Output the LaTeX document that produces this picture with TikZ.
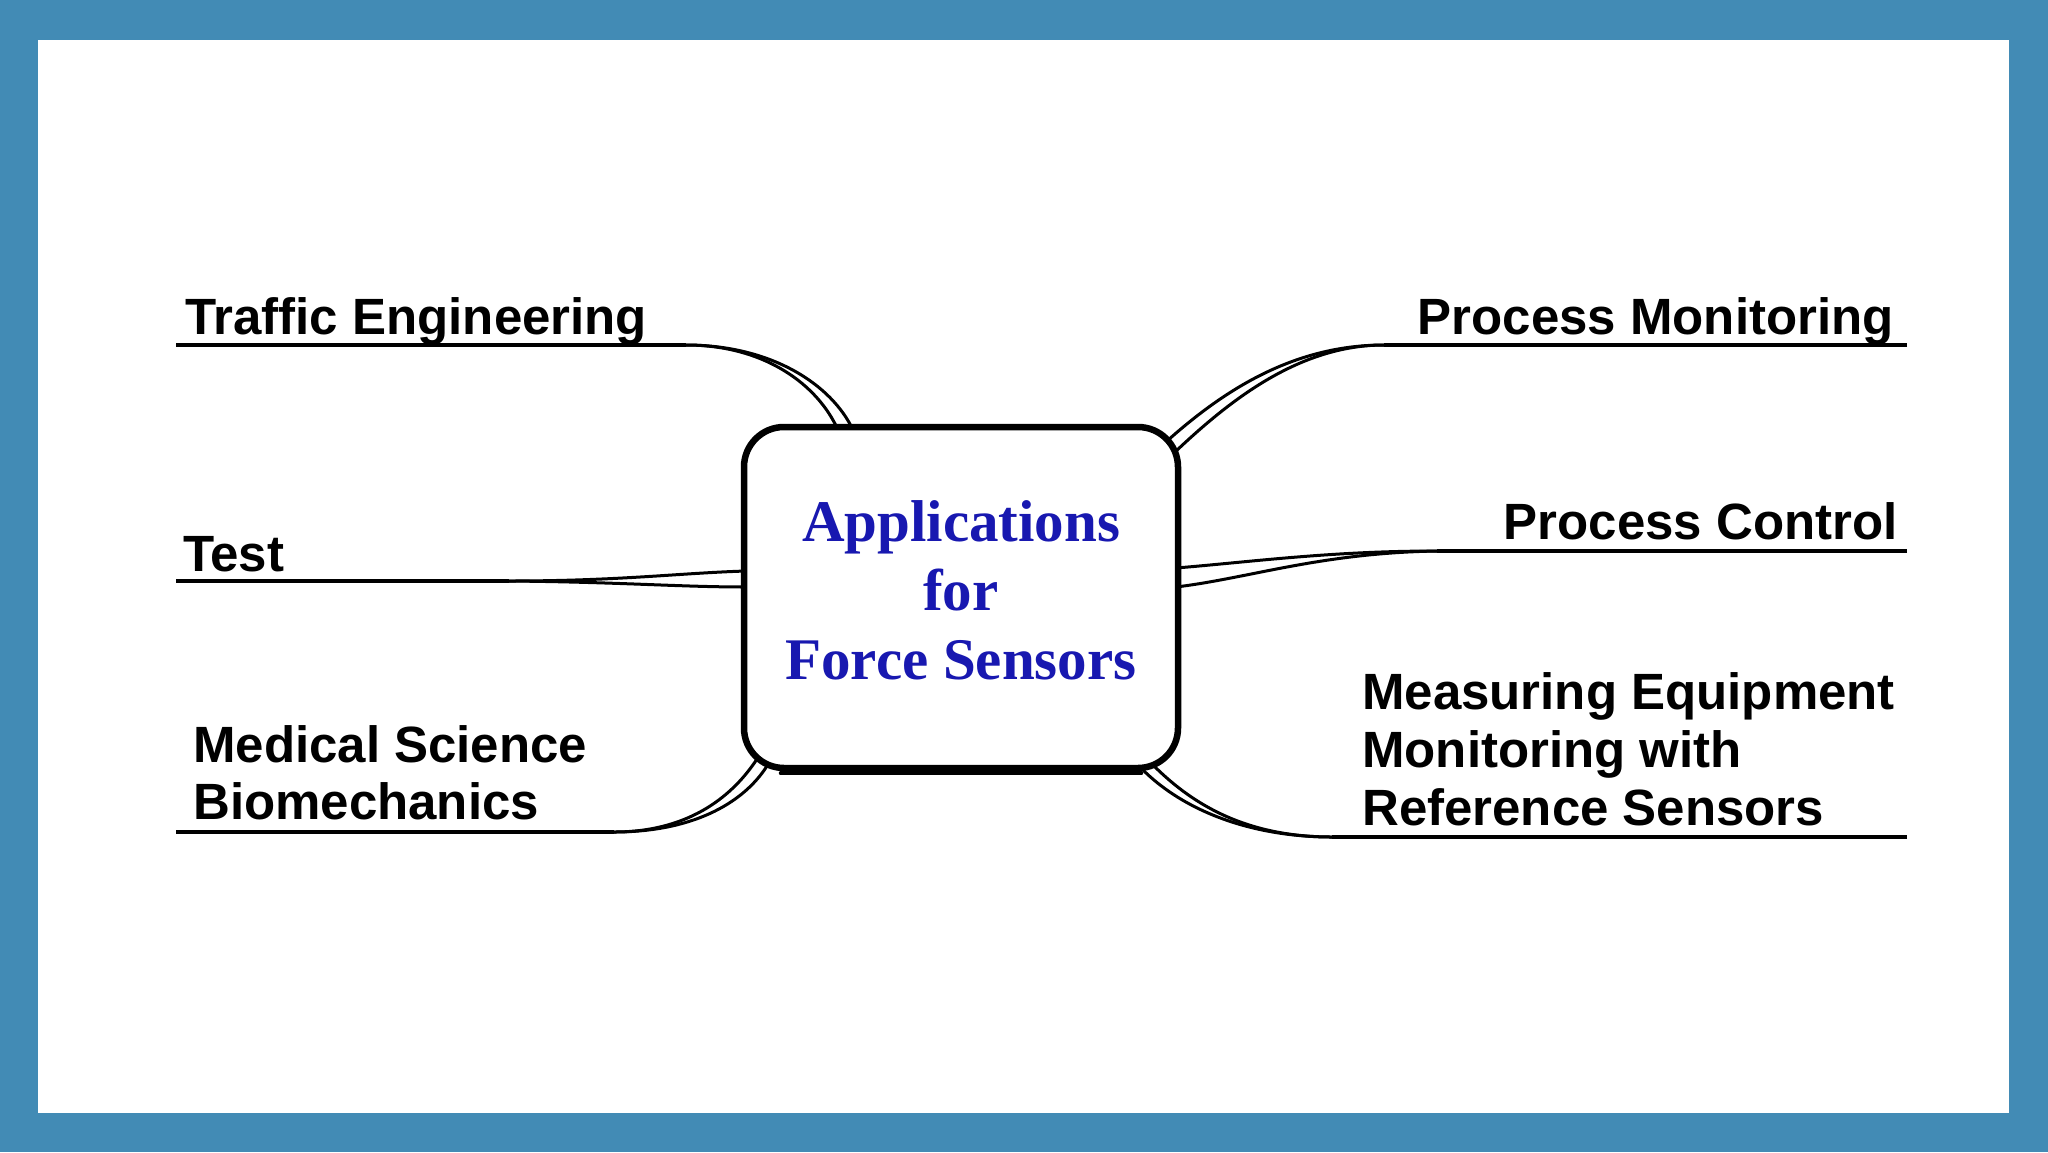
\documentclass[tikz,border=0pt]{standalone}
\usepackage{fontspec}
\setmainfont{Liberation Serif}
\newfontfamily\labfont{Liberation Sans}
\definecolor{frameblue}{RGB}{66,139,181}
\definecolor{titleblue}{RGB}{24,24,176}
\begin{document}
\begin{tikzpicture}[x=1pt,y=-1pt,
  lab/.style={font=\labfont\bfseries\fontsize{51}{58}\selectfont, inner sep=0pt},
  ttl/.style={font=\bfseries\fontsize{59}{69}\selectfont, text=titleblue, inner sep=0pt, anchor=base},
  uline/.style={line width=4.5pt},
  branch/.style={line width=3pt},
  hub/.style={draw, line width=6.5pt, rounded corners=40pt, fill=white, minimum width=434pt, minimum height=341pt, inner sep=0pt}
]
\fill[frameblue] (0,0) rectangle (2048,1152);
\fill[white] (38,40) rectangle (2009,1113);
\useasboundingbox (0,0) rectangle (2048,1152);

% labels
\node[lab, anchor=base west] (te) at (185,334) {Traffic Engineering};
\node[lab, anchor=base west] (ts) at (183,571) {Test};
\node[lab, anchor=base west] (md1) at (193,762) {Medical Science};
\node[lab, anchor=base west] (md2) at (193,819) {Biomechanics};
\node[lab, anchor=base east] (pm) at (1894,334) {Process Monitoring};
\node[lab, anchor=base east] (pc) at (1898,539) {Process Control};
\node[lab, anchor=base west] (me1) at (1362,709) {Measuring Equipment};
\node[lab, anchor=base west] (me2) at (1362,767) {Monitoring with};
\node[lab, anchor=base west] (me3) at (1362,825) {Reference Sensors};

% underline coordinates
\coordinate (teA) at (176,345); \coordinate (teB) at (686,345);
\coordinate (tsA) at (176,581); \coordinate (tsB) at (509,581);
\coordinate (mdA) at (176,832); \coordinate (mdB) at (614,832);
\coordinate (pmA) at (1907,345); \coordinate (pmB) at (1384,345);
\coordinate (pcA) at (1907,551); \coordinate (pcB) at (1437,551);
\coordinate (meA) at (1907,837); \coordinate (meB) at (1332,837);

% box end points
\coordinate (te1) at (838,430); \coordinate (te2) at (853,430);
\coordinate (ts1) at (746,571); \coordinate (ts2) at (746,587);
\coordinate (md1e) at (757,759); \coordinate (md2e) at (767,766);
\coordinate (pm1) at (1167,441); \coordinate (pm2) at (1175,452);
\coordinate (pc1) at (1176,568); \coordinate (pc2) at (1176,587);
\coordinate (me1e) at (1141,768); \coordinate (me2e) at (1153,765);

\draw[uline] (teA) -- (teB);
\draw[uline] (tsA) -- (tsB);
\draw[uline] (mdA) -- (mdB);
\draw[uline] (pmA) -- (pmB);
\draw[uline] (pcA) -- (pcB);
\draw[uline] (meA) -- (meB);

\draw[branch] (teB) .. controls (765,345) and (818,385) .. (te1);
\draw[branch] (teB) .. controls (772,345) and (832,385) .. (te2);
\draw[branch] (tsB) .. controls (620,581) and (680,573) .. (ts1);
\draw[branch] (tsB) .. controls (620,582) and (680,587) .. (ts2);
\draw[branch] (mdB) .. controls (685,832) and (730,800) .. (md1e);
\draw[branch] (mdB) .. controls (690,832) and (742,805) .. (md2e);
\draw[branch] (pmB) .. controls (1292,345) and (1222,392) .. (pm1);
\draw[branch] (pmB) .. controls (1298,345) and (1228,402) .. (pm2);
\draw[branch] (pcB) .. controls (1330,551) and (1250,562) .. (pc1);
\draw[branch] (pcB) .. controls (1320,553) and (1250,578) .. (pc2);
\draw[branch] (meB) .. controls (1250,837) and (1182,810) .. (me1e);
\draw[branch] (meB) .. controls (1243,837) and (1190,802) .. (me2e);

% hub
\node[hub] (hub) at (961,597.5) {};
\draw[line width=4pt, line cap=round] ([xshift=40pt,yshift=-2pt]hub.south west) -- ([xshift=-40pt,yshift=-2pt]hub.south east);
\node[ttl] (t1) at (961,541) {Applications};
\node[ttl] (t2) at (961,610) {for};
\node[ttl] (t3) at (961,679) {Force Sensors};
\end{tikzpicture}
\end{document}
